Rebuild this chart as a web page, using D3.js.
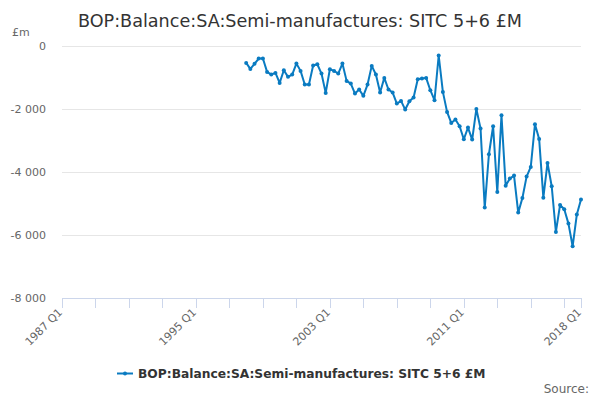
<!DOCTYPE html>
<html>
<head>
<meta charset="utf-8">
<script src="https://cdn.jsdelivr.net/npm/d3@7"></script>
<style>
  body { margin: 0; background: #fff; }
  svg { display: block; font-family: "DejaVu Sans", Verdana, sans-serif; }
</style>
</head>
<body>
<svg id="chart" width="600" height="400"></svg>
<script>
// chart data
const title = "BOP:Balance:SA:Semi-manufactures: SITC 5+6 £M";
const seriesName = "BOP:Balance:SA:Semi-manufactures: SITC 5+6 £M";
const firstYear = 1998;   // series starts 1998 Q1, quarterly
const values = [
  -551, -741, -580, -413, -413, -836, -920, -868, -1185, -783,
  -994, -920, -572, -804, -1237, -1237, -635, -593, -889, -1502,
  -751, -804, -888, -571, -1121, -1205, -1522, -1395, -1596, -1237,
  -646, -920, -1491, -1026, -1395, -1491, -1840, -1755, -2030, -1766,
  -1650, -1069, -1047, -1026, -1417, -1734, -317, -1470, -2104, -2453,
  -2346, -2558, -2970, -2600, -2980, -2009, -2632, -5135, -3446, -2558,
  -4641, -2210, -4440, -4217, -4122, -5295, -4830, -4154, -3848, -2495,
  -2960, -4820, -3720, -4460, -5908, -5052, -5190, -5643, -6362, -5357,
  -4882
];
const yTicks = [0, -2000, -4000, -6000, -8000];
const xTickYears = [1987, 1989, 1991, 1993, 1995, 1997, 1999, 2001, 2003,
  2005, 2007, 2009, 2011, 2013, 2015, 2017, 2018];
const xLabelYears = [1987, 1995, 2003, 2011, 2018];

// quarter positions as fractional years
const points = values.map((v, i) => ({
  t: firstYear + i / 4,
  label: (firstYear + Math.floor(i / 4)) + " Q" + (i % 4 + 1),
  v: v
}));

const svg = d3.select("#chart");
const x = d3.scaleLinear().domain([1987, 2018]).range([62, 581]);
const y = d3.scaleLinear().domain([-8000, 0]).range([298, 45.5]);

const fmt = d3.formatLocale({ decimal: ".", thousands: " ", grouping: [3], currency: ["£", ""], minus: "-" }).format(",d");

// title
svg.append("text")
  .attr("x", 300).attr("y", 27)
  .attr("text-anchor", "middle")
  .style("font-size", "17.6px")
  .style("fill", "#333")
  .text(title);

// y gridlines + labels
svg.append("g").selectAll("line")
  .data(yTicks.filter(d => d !== -8000))
  .join("line")
  .attr("x1", 62).attr("x2", 581)
  .attr("y1", d => Math.round(y(d)) + 0.5).attr("y2", d => Math.round(y(d)) + 0.5)
  .attr("stroke", "#e6e6e6");

svg.append("g").selectAll("text")
  .data(yTicks)
  .join("text")
  .attr("x", 46).attr("y", d => y(d) + 4)
  .attr("text-anchor", "end")
  .style("font-size", "11px")
  .style("fill", "#666")
  .text(d => fmt(d));

svg.append("text")
  .attr("x", 12).attr("y", 36)
  .style("font-size", "11px")
  .style("fill", "#666")
  .text("£m");

// x axis
svg.append("line")
  .attr("x1", 62).attr("x2", 582)
  .attr("y1", 298.5).attr("y2", 298.5)
  .attr("stroke", "#ccd6eb");

svg.append("g").selectAll("line")
  .data(xTickYears)
  .join("line")
  .attr("x1", d => Math.round(x(d)) + 0.5).attr("x2", d => Math.round(x(d)) + 0.5)
  .attr("y1", 298).attr("y2", 308)
  .attr("stroke", "#ccd6eb");

svg.append("g").selectAll("text")
  .data(xLabelYears)
  .join("text")
  .attr("transform", d => `translate(${x(d) + 1},${313}) rotate(-45)`)
  .attr("text-anchor", "end")
  .style("font-size", "11px")
  .style("fill", "#666")
  .text(d => d + " Q1");

// series
const line = d3.line().x(d => x(d.t)).y(d => y(d.v));
const blue = "#0a7bc1";

svg.append("path")
  .datum(points)
  .attr("d", line)
  .attr("fill", "none")
  .attr("stroke", blue)
  .attr("stroke-width", 2)
  .attr("stroke-linejoin", "round");

svg.append("g").selectAll("circle")
  .data(points)
  .join("circle")
  .attr("cx", d => x(d.t)).attr("cy", d => y(d.v))
  .attr("r", 2)
  .attr("fill", blue);

// legend
const legend = svg.append("g").attr("transform", "translate(117,373)");
legend.append("line")
  .attr("x1", 0).attr("x2", 16).attr("y1", 0.5).attr("y2", 0.5)
  .attr("stroke", blue).attr("stroke-width", 2);
legend.append("circle")
  .attr("cx", 8).attr("cy", 0.5).attr("r", 2).attr("fill", blue);
legend.append("text")
  .attr("x", 21).attr("y", 4.5)
  .style("font-size", "12.25px")
  .style("font-weight", "bold")
  .style("fill", "#333")
  .text(seriesName);

// credits
svg.append("text")
  .attr("x", 589).attr("y", 393)
  .attr("text-anchor", "end")
  .style("font-size", "12px")
  .style("fill", "#666")
  .text("Source:");
</script>
</body>
</html>
